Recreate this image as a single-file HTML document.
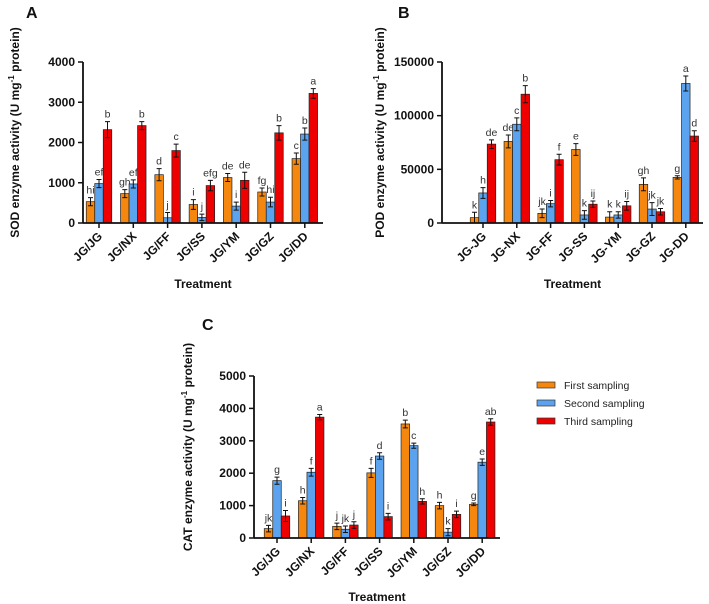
<!DOCTYPE html>
<html><head><meta charset="utf-8">
<style>
html,body{margin:0;padding:0;background:#fff;}
svg{display:block;font-family:"Liberation Sans",Arial,sans-serif;}
.tick{font-size:12px;font-weight:bold;fill:#111;}
.cat{font-size:12px;font-weight:bold;fill:#111;}
.ttl{font-size:12px;font-weight:bold;fill:#111;}
.let{font-size:10.5px;fill:#333;}
.pl{font-size:16px;font-weight:bold;fill:#111;}
.leg{font-size:10.5px;fill:#222;}
</style></head>
<body>
<svg id="fig" width="709" height="604" viewBox="0 0 709 604"></svg>
<script>
const colors=["#F5870F","#5BA3EE","#EE0000"];
const seriesNames=["First sampling","Second sampling","Third sampling"];
const catsA=["JG/JG","JG/NX","JG/FF","JG/SS","JG/YM","JG/GZ","JG/DD"];
const catsB=["JG-JG","JG-NX","JG-FF","JG-SS","JG-YM","JG-GZ","JG-DD"];
const sodFirst=[530,730,1200,460,1130,770,1600];
const sodSecond=[980,970,130,140,420,520,2210];
const sodThird=[2320,2420,1800,930,1060,2240,3220];
const sodErrFirst=[100,100,150,120,100,100,140];
const sodErrSecond=[100,100,130,80,100,120,150];
const sodErrThird=[200,100,160,130,200,180,120];
const sodLetters=[["hi","ef","b"],["gh","ef","b"],["d","j","c"],["i","j","efg"],["de","i","de"],["fg","hi","b"],["c","b","a"]];
const sodTicks=[0,1000,2000,3000,4000];
const podFirst=[5000,76000,9000,68500,5500,36000,42500];
const podSecond=[28000,92000,18000,7500,7500,13000,130000];
const podThird=[73500,120000,59000,17500,16000,10500,81000];
const podErrFirst=[5000,6000,4000,5500,5000,6000,1500];
const podErrSecond=[5000,6000,3000,4000,3000,6000,7000];
const podErrThird=[4000,8000,5000,3000,4000,3000,5000];
const podLetters=[["k","h","de"],["de","c","b"],["jk","i","f"],["e","k","ij"],["k","k","ij"],["gh","jk","jk"],["g","a","d"]];
const podTicks=[0,50000,100000,150000];
const catFirst=[290,1150,360,2010,3520,1000,1040];
const catSecond=[1770,2030,270,2530,2850,180,2340];
const catThird=[680,3730,400,660,1130,730,3580];
const catErrFirst=[100,100,100,140,120,100,40];
const catErrSecond=[110,120,100,100,80,110,100];
const catErrThird=[170,80,100,100,80,100,100];
const catLetters=[["jk","g","i"],["h","f","a"],["j","jk","j"],["f","d","i"],["b","c","h"],["h","k","i"],["g","e","ab"]];
const catTicks=[0,1000,2000,3000,4000,5000];

const NS="http://www.w3.org/2000/svg";
const svg=document.getElementById("fig");
function mk(tag,attrs,parent,text){const e=document.createElementNS(NS,tag);for(const k in attrs)e.setAttribute(k,attrs[k]);if(text!==undefined)e.textContent=text;(parent||svg).appendChild(e);return e;}

function panel(o){
  const g=mk("g",{});
  
  
  const y=v=>o.y0-(v/o.ymax)*(o.y0-o.yTop);
  const x=i=>o.x1+o.sp*i;
  const bw=8.5;
  const series=[o.s1,o.s2,o.s3], errs=[o.e1,o.e2,o.e3];
  // bars
  for(let i=0;i<o.cats.length;i++){
    for(let s=0;s<3;s++){
      const v=series[s][i], bx=x(i)+(s-1.5)*bw;
      const r=mk("rect",{x:bx,y:y(v),width:bw,height:o.y0-y(v),fill:colors[s],stroke:"#222","stroke-width":0.7},g);
      
      
      const cx=bx+bw/2, hi=y(v+errs[s][i]), lo=y(Math.max(0,v-errs[s][i]));
      mk("path",{d:`M${cx} ${hi}V${lo}M${cx-2.5} ${hi}H${cx+2.5}M${cx-2.5} ${lo}H${cx+2.5}`,stroke:"#111","stroke-width":1,fill:"none"},g);
      const t=mk("text",{x:cx,y:hi-4,"text-anchor":"middle",class:"let"},g,o.letters[i][s]);
      
      
    }
    mk("line",{x1:x(i),x2:x(i),y1:o.y0,y2:o.y0+5,stroke:"#111","stroke-width":1.5},g);
    const lt=mk("text",{x:x(i)+4,y:o.y0+14,"text-anchor":"end",class:"cat",transform:`rotate(-45 ${x(i)+4} ${o.y0+14})`},g,o.cats[i]);
    
    
  }
  // axes
  mk("line",{x1:o.ax,x2:o.ax,y1:o.yTop,y2:o.y0,stroke:"#111","stroke-width":1.8},g);
  mk("line",{x1:o.ax,x2:o.xEnd,y1:o.y0,y2:o.y0,stroke:"#111","stroke-width":1.8},g);
  o.ticks.forEach(t=>{
    mk("line",{x1:o.ax-5,x2:o.ax,y1:y(t),y2:y(t),stroke:"#111","stroke-width":1.5},g);
    const tt=mk("text",{x:o.ax-8,y:y(t)+4,"text-anchor":"end",class:"tick"},g,String(t));
    
    
  });
  const yt=mk("text",{x:o.ytx,y:(o.yTop+o.y0)/2-10,"text-anchor":"middle",class:"ttl",transform:`rotate(-90 ${o.ytx} ${(o.yTop+o.y0)/2-10})`},g);
  
  
  yt.innerHTML=o.ylab+' enzyme activity (U mg<tspan dy="-5" font-size="8">-1</tspan><tspan dy="5"> protein)</tspan>';
  const xt=mk("text",{x:(o.ax+o.xEnd)/2,y:o.xtY,"text-anchor":"middle",class:"ttl"},g,"Treatment");
  
  
  const pl=mk("text",{x:o.plx,y:o.ply,class:"pl"},g,o.pl);
  
  
}

panel({name:"sod-chart",cats:catsA,s1:sodFirst,s2:sodSecond,s3:sodThird,e1:sodErrFirst,e2:sodErrSecond,e3:sodErrThird,letters:sodLetters,ticks:sodTicks,ymax:4000,y0:223,yTop:62,ax:83,xEnd:323,x1:99,sp:34.3,ytx:19,ylab:"SOD",xtY:288,plx:26,ply:18,pl:"A"});
panel({name:"pod-chart",cats:catsB,s1:podFirst,s2:podSecond,s3:podThird,e1:podErrFirst,e2:podErrSecond,e3:podErrThird,letters:podLetters,ticks:podTicks,ymax:150000,y0:223,yTop:62,ax:442,xEnd:703,x1:483,sp:33.8,ytx:384,ylab:"POD",xtY:288,plx:398,ply:18,pl:"B"});
panel({name:"cat-chart",cats:catsA,s1:catFirst,s2:catSecond,s3:catThird,e1:catErrFirst,e2:catErrSecond,e3:catErrThird,letters:catLetters,ticks:catTicks,ymax:5000,y0:538,yTop:376,ax:254,xEnd:500,x1:277,sp:34.2,ytx:192,ylab:"CAT",xtY:601,plx:202,ply:330,pl:"C"});

// legend
const lg=mk("g",{});


seriesNames.forEach((n,i)=>{
  const yy=385+18*i;
  mk("rect",{x:537,y:yy-3,width:18,height:6,fill:colors[i],stroke:"#333","stroke-width":0.7},lg);
  const t=mk("text",{x:564,y:yy+4,class:"leg"},lg,n);
  
  
});
</script>
</body></html>
